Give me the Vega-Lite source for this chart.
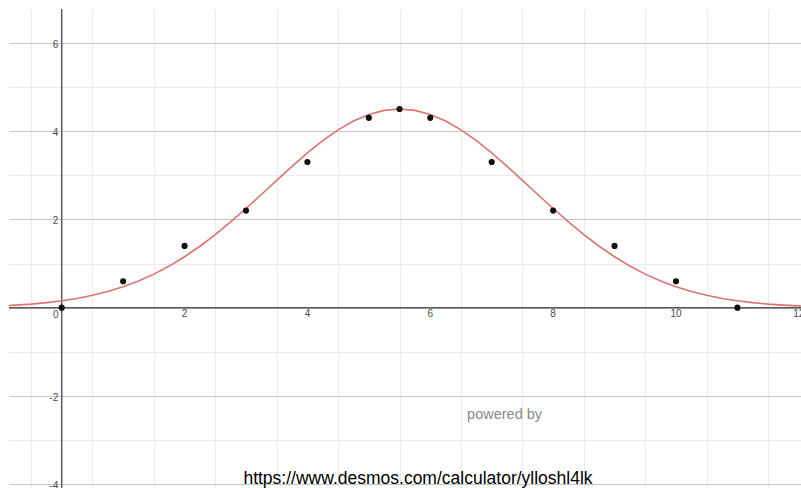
{
  "$schema": "https://vega.github.io/schema/vega-lite/v6.json",
  "autosize": {"type": "none"},
  "padding": {"left": 9, "top": 9, "right": 0, "bottom": 0},
  "width": 792,
  "height": 479,
  "background": "white",
  "config": {"view": {"stroke": null}},
  "datasets": {
    "curve": [
      {"x": -1, "y": 0.041}, {"x": -0.75, "y": 0.059}, {"x": -0.5, "y": 0.082}, {"x": -0.25, "y": 0.114},
      {"x": 0, "y": 0.156}, {"x": 0.25, "y": 0.21}, {"x": 0.5, "y": 0.28}, {"x": 0.75, "y": 0.367},
      {"x": 1, "y": 0.474}, {"x": 1.25, "y": 0.605}, {"x": 1.5, "y": 0.761}, {"x": 1.75, "y": 0.943},
      {"x": 2, "y": 1.154}, {"x": 2.25, "y": 1.392}, {"x": 2.5, "y": 1.655}, {"x": 2.75, "y": 1.942},
      {"x": 3, "y": 2.247}, {"x": 3.25, "y": 2.564}, {"x": 3.5, "y": 2.885}, {"x": 3.75, "y": 3.202},
      {"x": 4, "y": 3.505}, {"x": 4.25, "y": 3.783}, {"x": 4.5, "y": 4.027}, {"x": 4.75, "y": 4.227},
      {"x": 5, "y": 4.377}, {"x": 5.25, "y": 4.469}, {"x": 5.5, "y": 4.5}, {"x": 5.75, "y": 4.469},
      {"x": 6, "y": 4.377}, {"x": 6.25, "y": 4.227}, {"x": 6.5, "y": 4.027}, {"x": 6.75, "y": 3.783},
      {"x": 7, "y": 3.505}, {"x": 7.25, "y": 3.202}, {"x": 7.5, "y": 2.885}, {"x": 7.75, "y": 2.564},
      {"x": 8, "y": 2.247}, {"x": 8.25, "y": 1.942}, {"x": 8.5, "y": 1.655}, {"x": 8.75, "y": 1.392},
      {"x": 9, "y": 1.154}, {"x": 9.25, "y": 0.943}, {"x": 9.5, "y": 0.761}, {"x": 9.75, "y": 0.605},
      {"x": 10, "y": 0.474}, {"x": 10.25, "y": 0.367}, {"x": 10.5, "y": 0.28}, {"x": 10.75, "y": 0.21},
      {"x": 11, "y": 0.156}, {"x": 11.25, "y": 0.114}, {"x": 11.5, "y": 0.082}, {"x": 11.75, "y": 0.059},
      {"x": 12, "y": 0.041}, {"x": 12.25, "y": 0.029}
    ],
    "points": [
      {"x": 0, "y": 0}, {"x": 1, "y": 0.6}, {"x": 2, "y": 1.4}, {"x": 3, "y": 2.2},
      {"x": 4, "y": 3.3}, {"x": 5, "y": 4.3}, {"x": 5.5, "y": 4.5}, {"x": 6, "y": 4.3},
      {"x": 7, "y": 3.3}, {"x": 8, "y": 2.2}, {"x": 9, "y": 1.4}, {"x": 10, "y": 0.6},
      {"x": 11, "y": 0}
    ],
    "axesorigin": [{"x": 0, "y": 0}],
    "xlabels": [
      {"x": 2, "y": 0, "label": "2"}, {"x": 4, "y": 0, "label": "4"}, {"x": 6, "y": 0, "label": "6"},
      {"x": 8, "y": 0, "label": "8"}, {"x": 10, "y": 0, "label": "10"}, {"x": 12, "y": 0, "label": "12"}
    ],
    "origin": [{"x": 0, "y": 0, "label": "0"}],
    "ylabels": [
      {"x": 0, "y": -4, "label": "-4"}, {"x": 0, "y": -2, "label": "-2"}, {"x": 0, "y": 2, "label": "2"},
      {"x": 0, "y": 4, "label": "4"}, {"x": 0, "y": 6, "label": "6"}
    ],
    "powered": [{"x": 7.21, "y": -2.514, "label": "powered by"}],
    "url": [{"x": 5.8, "y": -3.993, "label": "https://www.desmos.com/calculator/ylloshl4lk"}]
  },
  "layer": [
    {
      "data": {"name": "curve"},
      "mark": {"type": "line", "clip": true, "color": "#d8706e", "strokeWidth": 1.6, "opacity": 0},
      "encoding": {
        "x": {
          "field": "x", "type": "quantitative",
          "scale": {"domain": [-0.858, 12.035], "nice": false, "zero": false},
          "axis": {
            "values": [-0.5, 0, 0.5, 1, 1.5, 2, 2.5, 3, 3.5, 4, 4.5, 5, 5.5, 6, 6.5, 7, 7.5, 8, 8.5, 9, 9.5, 10, 10.5, 11, 11.5, 12],
            "grid": true,
            "gridColor": {"condition": {"test": "datum.value % 2 === 0", "value": "#c6c6c6"}, "value": "#ebebeb"},
            "gridWidth": 1,
            "domain": false, "ticks": false, "labels": false, "title": null
          }
        },
        "y": {
          "field": "y", "type": "quantitative",
          "scale": {"domain": [-4.084, 6.766], "nice": false, "zero": false},
          "axis": {
            "values": [-4, -3.5, -3, -2.5, -2, -1.5, -1, -0.5, 0, 0.5, 1, 1.5, 2, 2.5, 3, 3.5, 4, 4.5, 5, 5.5, 6, 6.5],
            "grid": true,
            "gridColor": {"condition": {"test": "datum.value % 2 === 0", "value": "#c6c6c6"}, "value": "#ebebeb"},
            "gridWidth": 1,
            "domain": false, "ticks": false, "labels": false, "title": null
          }
        }
      }
    },
    {
      "data": {"name": "axesorigin"},
      "mark": {"type": "rule", "color": "#5a5a5a", "strokeWidth": 1.5},
      "encoding": {"y": {"field": "y", "type": "quantitative"}}
    },
    {
      "data": {"name": "axesorigin"},
      "mark": {"type": "rule", "color": "#5a5a5a", "strokeWidth": 1.5},
      "encoding": {"x": {"field": "x", "type": "quantitative"}}
    },
    {
      "data": {"name": "curve"},
      "mark": {"type": "line", "clip": true, "color": "#d97472", "strokeWidth": 1.6},
      "encoding": {
        "x": {"field": "x", "type": "quantitative"},
        "y": {"field": "y", "type": "quantitative"}
      }
    },
    {
      "data": {"name": "points"},
      "mark": {"type": "circle", "color": "#111111", "opacity": 1, "size": 38},
      "encoding": {
        "x": {"field": "x", "type": "quantitative"},
        "y": {"field": "y", "type": "quantitative"}
      }
    },
    {
      "data": {"name": "xlabels"},
      "mark": {"type": "text", "font": "Liberation Sans", "fontSize": 10, "color": "#4a4a4a", "align": "center", "baseline": "middle", "dy": 6.5},
      "encoding": {
        "x": {"field": "x", "type": "quantitative"},
        "y": {"field": "y", "type": "quantitative"},
        "text": {"field": "label"}
      }
    },
    {
      "data": {"name": "origin"},
      "mark": {"type": "text", "font": "Liberation Sans", "fontSize": 10, "color": "#4a4a4a", "align": "center", "baseline": "middle", "dx": -6, "dy": 7},
      "encoding": {
        "x": {"field": "x", "type": "quantitative"},
        "y": {"field": "y", "type": "quantitative"},
        "text": {"field": "label"}
      }
    },
    {
      "data": {"name": "ylabels"},
      "mark": {"type": "text", "font": "Liberation Sans", "fontSize": 10, "color": "#4a4a4a", "align": "right", "baseline": "middle", "dx": -3.5, "dy": 2},
      "encoding": {
        "x": {"field": "x", "type": "quantitative"},
        "y": {"field": "y", "type": "quantitative"},
        "text": {"field": "label"}
      }
    },
    {
      "data": {"name": "powered"},
      "mark": {"type": "text", "font": "Liberation Sans", "fontSize": 14.5, "color": "#8a8a8a", "align": "center", "baseline": "alphabetic"},
      "encoding": {
        "x": {"field": "x", "type": "quantitative"},
        "y": {"field": "y", "type": "quantitative"},
        "text": {"field": "label"}
      }
    },
    {
      "data": {"name": "url"},
      "mark": {"type": "text", "font": "Liberation Sans", "fontSize": 17.5, "color": "#000000", "align": "center", "baseline": "alphabetic"},
      "encoding": {
        "x": {"field": "x", "type": "quantitative"},
        "y": {"field": "y", "type": "quantitative"},
        "text": {"field": "label"}
      }
    }
  ]
}
